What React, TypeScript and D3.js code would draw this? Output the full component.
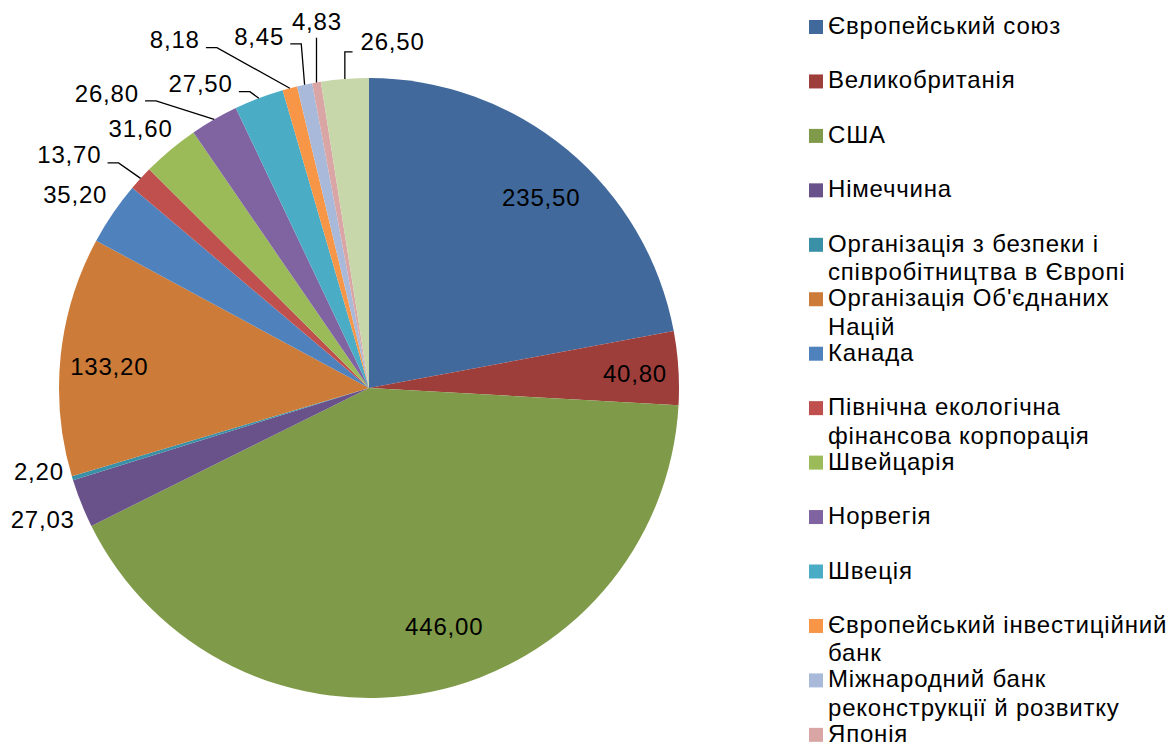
import React from 'react';
import * as d3 from 'd3';

// Донори (обсяг допомоги)
const categories = [
  'Європейський союз',
  'Великобританія',
  'США',
  'Німеччина',
  'Організація з безпеки і\nспівробітництва в Європі',
  "Організація Об'єднаних\nНацій",
  'Канада',
  'Північна екологічна\nфінансова корпорація',
  'Швейцарія',
  'Норвегія',
  'Швеція',
  'Європейський інвестиційний\nбанк',
  'Міжнародний банк\nреконструкції й розвитку',
  'Японія',
  'Інші',
];
const values = [235.5, 40.8, 446.0, 27.03, 2.2, 133.2, 35.2, 13.7, 31.6, 26.8, 27.5, 8.18, 8.45, 4.83, 26.5];
const colors = [
  '#41699B', '#9E3E3B', '#7F9A48', '#69518A', '#3A91A7', '#CC7B38', '#4F81BD',
  '#C0504D', '#9BBB59', '#8064A2', '#4BACC6', '#F79646', '#A9B9D9', '#DAA6A5', '#C8D7AA',
];

// label placement relative to the slice mid-angle (da in degrees, r in px from centre)
const labelLayout = [
  { da: 2.25, r: 257 },
  { da: 0.5, r: 266 },
  { da: -5.8, r: 250 },
  { da: 0, r: 352 },
  { da: 2.7, r: 341 },
  { da: -1.2, r: 261 },
  { da: -1.0, r: 352 },
  { da: -4.7, r: 380, leader: true },
  { da: -1.6, r: 346 },
  { da: -11.7, r: 395, leader: true },
  { da: -8.2, r: 348, leader: true },
  { da: -14.4, r: 399, leader: true },
  { da: -5.4, r: 369, leader: true },
  { da: 1.6, r: 370, leader: true },
  { da: 8.3, r: 347, leader: true },
];

const W = 1169, H = 744;
const cx = 369, cy = 388, R = 310;
const FS = 24;
const LS = 0.8; // extra letter spacing, the original renders a bit wider
const font = '"Liberation Sans", Arial, sans-serif';

const fmt = (v: number) => d3.format('.2f')(v).replace('.', ',');
const textW = (s: string) =>
  s.split('').reduce((a, c) => a + (c === ',' ? 0.278 : 0.556), 0) * FS + LS * (s.length - 1);

export default function App() {
  const pie = d3.pie<number>().sort(null).value(d => d);
  const arcs = pie(values);
  const arc = d3.arc<d3.PieArcDatum<number>>().innerRadius(0).outerRadius(R);

  const legendX = 809;
  const legendTop = 34;
  const legendStep = 54.45;

  return (
    <svg width={W} height={H} style={{ position: 'absolute', left: 0, top: 0, fontFamily: font, letterSpacing: LS }}>
      <rect width={W} height={H} fill="#fff" />
      <g transform={`translate(${cx},${cy})`}>
        {arcs.map((a, i) => (
          <path key={i} d={arc(a) || ''} fill={colors[i]} />
        ))}
      </g>

      {arcs.map((a, i) => {
        const mid = (a.startAngle + a.endAngle) / 2;
        const lay = labelLayout[i];
        const ang = mid + (lay.da * Math.PI) / 180;
        const lx = cx + lay.r * Math.sin(ang);
        const ly = cy - lay.r * Math.cos(ang);
        const txt = fmt(values[i]);
        const w = textW(txt);
        let leader: string | null = null;
        if (lay.leader) {
          const px = cx + R * Math.sin(mid);
          const py = cy - R * Math.cos(mid);
          const left = lx - w / 2, right = lx + w / 2;
          let pts: [number, number][];
          if (px >= left && px <= right) {
            pts = [[px, py], [px, ly + 16]];
          } else if (left > px) {
            pts = [[px, py], [px, ly + 10], [left - 8, ly + 10]];
          } else {
            pts = [[px, py], [right + 18, ly + 8], [right + 7, ly + 8]];
          }
          leader = d3.line()(pts);
        }
        return (
          <g key={i}>
            {leader && <path d={leader} fill="none" stroke="#000" strokeWidth={1.3} />}
            <text x={lx + LS / 2} y={ly} dy="0.36em" textAnchor="middle" fontSize={FS} fill="#000">
              {txt}
            </text>
          </g>
        );
      })}

      {categories.map((c, i) => {
        const base = legendTop + i * legendStep;
        const lines = c.split('\n');
        return (
          <g key={i}>
            <rect x={legendX} y={base - 14} width={14} height={14} fill={colors[i]} />
            <text x={828} y={base} fontSize={FS} fill="#000">
              {lines.map((l, j) => (
                <tspan key={j} x={828} dy={j === 0 ? 0 : 28.5}>
                  {l}
                </tspan>
              ))}
            </text>
          </g>
        );
      })}
    </svg>
  );
}
